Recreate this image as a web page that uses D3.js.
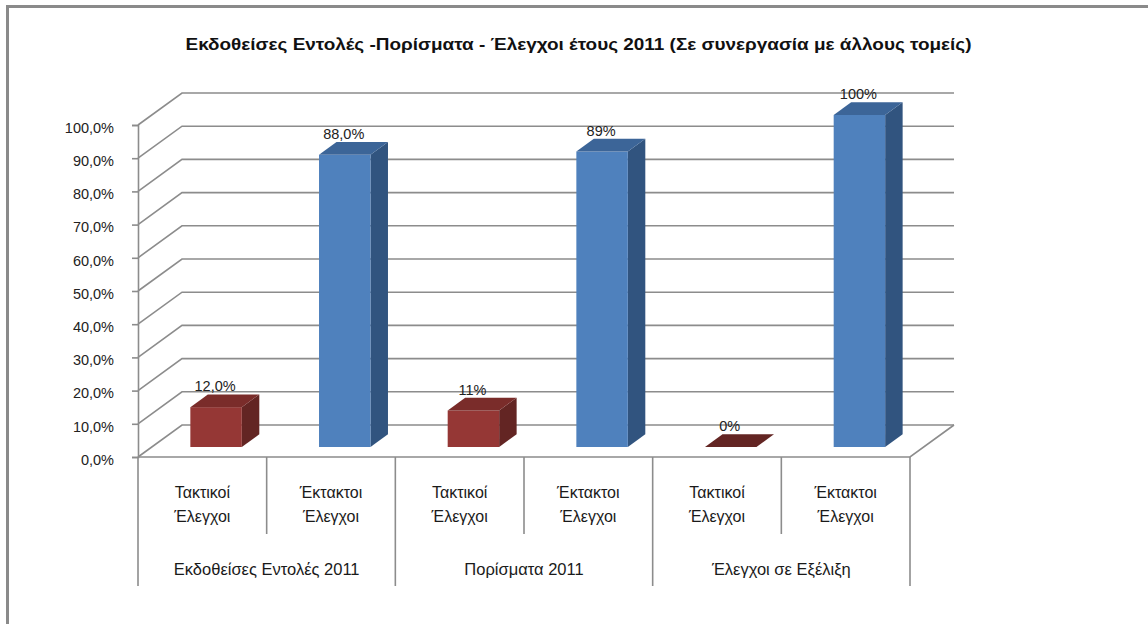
<!DOCTYPE html>
<html>
<head>
<meta charset="utf-8">
<script src="https://cdn.jsdelivr.net/npm/d3@7"></script>
<style>
  html, body { margin: 0; padding: 0; background: #fff; }
  svg { display: block; }
</style>
</head>
<body>
<svg id="chart" width="1148" height="624"></svg>
<script>
// Chart data
const title = "Εκδοθείσες Εντολές -Πορίσματα - Έλεγχοι έτους 2011 (Σε συνεργασία με άλλους τομείς)";
const groups = ["Εκδοθείσες Εντολές 2011", "Πορίσματα 2011", "Έλεγχοι σε Εξέλιξη"];
const subCategories = [["Τακτικοί", "Έλεγχοι"], ["Έκτακτοι", "Έλεγχοι"]];
const values = [12, 88, 11, 89, 0, 100];
const valueLabels = ["12,0%", "88,0%", "11%", "89%", "0%", "100%"];
const yTicks = [0, 10, 20, 30, 40, 50, 60, 70, 80, 90, 100];

// Layout
const W = 1148, H = 624;
const plotLeft = 138, plotRight = 910, floorY = 457, topY = 125;
const depth = [44, -32];          // offset of the back wall
const barFront = 0.3125, barBack = 0.71; // bar depth placement (fraction of depth)

const svg = d3.select("#chart");

// Outer frame
svg.append("path")
  .attr("d", `M7.5,${H} L7.5,6.5 L${W},6.5`)
  .attr("fill", "none").attr("stroke", "#8a8a8a").attr("stroke-width", 3);

// Title
svg.append("text")
  .attr("x", 578.5).attr("y", 50)
  .attr("text-anchor", "middle")
  .attr("font-family", "Liberation Sans, Arial, sans-serif")
  .attr("font-weight", "bold").attr("font-size", 17)
  .attr("fill", "#111")
  .attr("textLength", 786).attr("lengthAdjust", "spacingAndGlyphs")
  .text(title);

// Category keys
const cats = [];
groups.forEach((g, gi) => subCategories.forEach((s, si) => cats.push({ key: gi + "-" + si, group: gi, lines: s })));

const x = d3.scaleBand()
  .domain(cats.map(c => c.key))
  .range([plotLeft, plotRight])
  .paddingInner(0.6).paddingOuter(0.3);
const step = x.step();

const y = d3.scaleLinear().domain([0, 100]).range([floorY, topY]);

const gridColor = "#8c8c8c";

// Walls: gridlines on the side wall and back wall
const grid = svg.append("g");
grid.selectAll("path.grid")
  .data(yTicks)
  .join("path")
  .attr("class", "grid")
  .attr("fill", "none")
  .attr("stroke", gridColor).attr("stroke-width", 1.6)
  .attr("d", t => {
    const yy = y(t);
    return `M${plotLeft},${yy} L${plotLeft + depth[0]},${yy + depth[1]} L${plotRight + depth[0]},${yy + depth[1]}`;
  });

// Floor front edge and right edge
grid.append("path")
  .attr("fill", "none").attr("stroke", gridColor).attr("stroke-width", 1.6)
  .attr("d", `M${plotLeft},${floorY} L${plotRight},${floorY} L${plotRight + depth[0]},${floorY + depth[1]}`);

// Y axis
const fmt = d3.formatLocale({ decimal: ",", thousands: ".", grouping: [3], currency: ["", "€"] }).format(".1%");
const yAxis = svg.append("g")
  .attr("transform", `translate(${plotLeft},0)`)
  .call(d3.axisLeft(y).tickValues(yTicks).tickSize(6).tickPadding(18).tickFormat(d => fmt(d / 100)));
yAxis.select(".domain").attr("stroke", gridColor).attr("stroke-width", 1.6);
yAxis.selectAll(".tick line").attr("stroke", gridColor).attr("stroke-width", 1.6);
yAxis.selectAll(".tick text")
  .attr("font-family", "Liberation Sans, Arial, sans-serif")
  .attr("font-size", 14.5).attr("fill", "#222")
  .attr("dy", "0.5em");

// Category axis tick dividers
const tickG = svg.append("g");
d3.range(cats.length + 1).forEach(i => {
  const xx = plotLeft + i * step;
  const isGroup = i % 2 === 0;
  tickG.append("line")
    .attr("x1", xx).attr("x2", xx)
    .attr("y1", floorY).attr("y2", isGroup ? 586 : 534)
    .attr("stroke", gridColor).attr("stroke-width", 1.6);
});

// Category labels
const labelFont = "Liberation Sans, Arial, sans-serif";
cats.forEach(c => {
  const cx = x(c.key) + x.bandwidth() / 2;
  const t = svg.append("text")
    .attr("text-anchor", "middle")
    .attr("font-family", labelFont).attr("font-size", 16).attr("fill", "#1a1a1a");
  t.append("tspan").attr("x", cx).attr("y", 498).text(c.lines[0]);
  t.append("tspan").attr("x", cx).attr("y", 522).text(c.lines[1]);
});
groups.forEach((g, gi) => {
  svg.append("text")
    .attr("x", plotLeft + (gi * 2 + 1) * step)
    .attr("y", 575)
    .attr("text-anchor", "middle")
    .attr("font-family", labelFont).attr("font-size", 16.5).attr("fill", "#1a1a1a")
    .text(g);
});

// 3D bars
const palettes = [
  { front: "#953735", side: "#632523", top: "#7a2c2a" },
  { front: "#4f81bd", side: "#31547f", top: "#3c6598" }
];
const f0 = [depth[0] * barFront, depth[1] * barFront];
const f1 = [depth[0] * barBack, depth[1] * barBack];

const bars = svg.append("g").selectAll("g.bar")
  .data(cats.map((c, i) => ({ cat: c, value: values[i], label: valueLabels[i], pal: palettes[i % 2] })))
  .join("g").attr("class", "bar");

bars.each(function (d) {
  const g = d3.select(this);
  const xl = x(d.cat.key) + f0[0];
  const xr = xl + x.bandwidth();
  const yb = y(0) + f0[1];
  const yt = y(d.value) + f0[1];
  const dx = f1[0] - f0[0], dy = f1[1] - f0[1];
  // side face
  g.append("path").attr("fill", d.pal.side)
    .attr("d", `M${xr},${yb} L${xr + dx},${yb + dy} L${xr + dx},${yt + dy} L${xr},${yt} Z`);
  // front face
  g.append("rect").attr("fill", d.pal.front)
    .attr("x", xl).attr("y", yt).attr("width", xr - xl).attr("height", yb - yt);
  // top face
  g.append("path").attr("fill", d.value === 0 ? d.pal.side : d.pal.top)
    .attr("d", `M${xl},${yt} L${xr},${yt} L${xr + dx},${yt + dy} L${xl + dx},${yt + dy} Z`);
  // value label
  g.append("text")
    .attr("x", (xl + xr) / 2 - 1)
    .attr("y", yt + dy - 3)
    .attr("text-anchor", "middle")
    .attr("font-family", "Liberation Sans, Arial, sans-serif")
    .attr("font-size", 14.5).attr("fill", "#222")
    .text(d.label);
});
</script>
</body>
</html>
